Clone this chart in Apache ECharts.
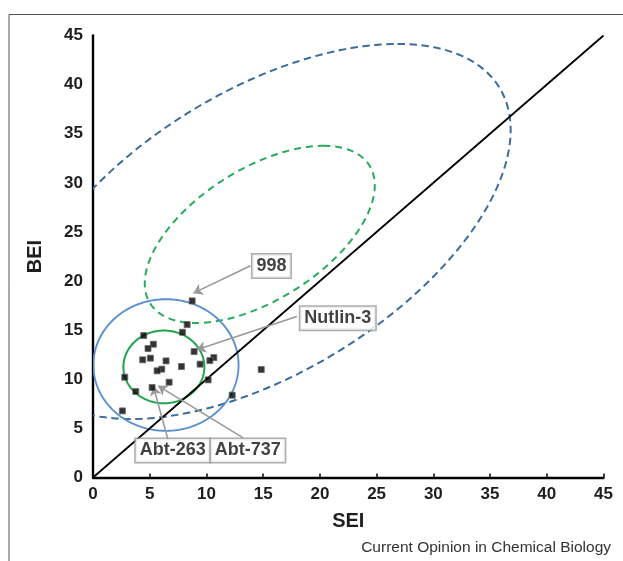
<!DOCTYPE html>
<html><head><meta charset="utf-8">
<script src="https://cdn.jsdelivr.net/npm/echarts@6/dist/echarts.min.js"></script>
<style>html,body{margin:0;padding:0;background:#fff}#c{width:623px;height:561px}</style>
</head><body><div id="c"></div>
<script>
// Compound data (SEI, BEI)
const sei = [8.74, 8.30, 7.88, 4.47, 5.32, 4.85, 8.91, 4.38, 5.06, 6.44, 10.65, 10.30, 9.44, 7.80, 6.06, 5.65, 14.83, 2.80, 10.15, 6.71, 5.21, 3.77, 12.27, 2.59];
const bei = [17.98, 15.57, 14.79, 14.45, 13.57, 13.13, 12.82, 11.98, 12.15, 11.87, 12.21, 11.90, 11.54, 11.30, 11.03, 10.86, 10.99, 10.21, 9.94, 9.70, 9.16, 8.75, 8.38, 6.78];
const ticks = [0, 5, 10, 15, 20, 25, 30, 35, 40, 45];
// Annotations (data units)
const annotNames = ['998', 'Nutlin-3', 'Abt-263', 'Abt-737'];
const annotBoxSei = [15.73, 21.58, 7.03, 13.65];
const annotBoxBei = [21.53, 16.22, 2.76, 2.76];
const arrowFromSei = [13.88, 17.97, 6.62, 13.24];
const arrowFromBei = [21.55, 16.38, 3.83, 4.03];
const arrowToSei = [8.85, 9.15, 5.32, 5.74];
const arrowToBei = [18.77, 13.00, 9.26, 9.33];
// Ellipses: centre and two conjugate semi-diameters (data units)
const ellipseCx = [15.10, 14.70, 6.43, 6.25];
const ellipseCy = [25.05, 24.75, 11.45, 11.26];
const ellipseUx = [11.74, 5.60, 0, 0];
const ellipseUy = [19.09, 9.02, 6.70, 3.70];
const ellipseVx = [18.27, 8.45, 6.40, 3.57];
const ellipseVy = [0, 0, 0, 0];
const diagonal = [[0, 0], [45, 45]];

const ellipseStyles = [
  {color: '#3b6c9e', width: 2, dash: [7.5, 4.5]},
  {color: '#27ad59', width: 2, dash: [7, 5]},
  {color: '#5b90cf', width: 1.9, dash: null},
  {color: '#1fa34c', width: 2, dash: null}
];
const FONT = 'Liberation Sans, Arial, sans-serif';

const chart = echarts.init(document.getElementById('c'), null, {renderer: 'canvas'});
const axisCommon = {
  type: 'value', min: ticks[0], max: ticks[ticks.length - 1], interval: ticks[1] - ticks[0],
  splitLine: {show: false},
  axisLine: {show: true, lineStyle: {color: '#000', width: 2.4}},
  axisLabel: {fontSize: 17, fontWeight: 'bold', color: '#1e1e1e', fontFamily: FONT},
  nameLocation: 'middle',
  nameTextStyle: {fontSize: 20, fontWeight: 'bold', color: '#1e1e1e', fontFamily: FONT}
};
chart.setOption({
  animation: false,
  backgroundColor: '#fff',
  grid: {left: 93, right: 19.5, top: 35.5, bottom: 83.5, containLabel: false, outerBoundsMode: 'none'},
  xAxis: Object.assign({}, axisCommon, {
    name: 'SEI', nameGap: 34,
    axisTick: {show: true, inside: true, length: 4, lineStyle: {color: '#000', width: 1.5}},
    axisLabel: Object.assign({}, axisCommon.axisLabel, {margin: 8})
  }),
  yAxis: Object.assign({}, axisCommon, {
    name: 'BEI', nameGap: 48,
    axisTick: {show: false},
    axisLabel: Object.assign({}, axisCommon.axisLabel, {margin: 10})
  }),
  graphic: [
    {type: 'polyline', shape: {points: [[9, 561], [9, 14.5], [623, 14.5]]}, style: {stroke: '#555', lineWidth: 1, fill: null}, silent: true},
    {type: 'text', right: 12, top: 540, style: {text: 'Current Opinion in Chemical Biology', fontSize: 15.5, fontFamily: FONT, fill: '#333'}, silent: true}
  ],
  series: [
    {
      type: 'custom', coordinateSystem: 'cartesian2d', clip: true, silent: true, z: 2,
      data: ellipseCx.map((cx, i) => [cx, ellipseCy[i], ellipseUx[i], ellipseUy[i], ellipseVx[i], ellipseVy[i], i]),
      encode: {x: 0, y: 1},
      renderItem: function (params, api) {
        const cx = api.value(0), cy = api.value(1), ux = api.value(2), uy = api.value(3), vx = api.value(4), vy = api.value(5), idx = api.value(6);
        const pts = [];
        for (let k = 0; k <= 240; k++) {
          const t = k / 240 * 2 * Math.PI;
          pts.push(api.coord([cx + ux * Math.cos(t) + vx * Math.sin(t), cy + uy * Math.cos(t) + vy * Math.sin(t)]));
        }
        const st = ellipseStyles[idx];
        const cs = params.coordSys;
        return {
          type: 'group',
          clipPath: {type: 'rect', shape: {x: cs.x, y: cs.y, width: cs.width, height: cs.height}},
          children: [{type: 'polyline', shape: {points: pts}, style: {stroke: st.color, lineWidth: st.width, lineDash: st.dash, fill: null}}]
        };
      }
    },
    {
      type: 'line', data: diagonal, symbol: 'none', silent: true, z: 3,
      lineStyle: {color: '#000', width: 1.8}
    },
    {
      type: 'lines', coordinateSystem: 'cartesian2d', silent: true, z: 4,
      symbol: ['none', 'arrow'], symbolSize: 9,
      lineStyle: {color: '#999', width: 1.6, opacity: 1},
      data: annotNames.map((n, i) => ({coords: [[arrowFromSei[i], arrowFromBei[i]], [arrowToSei[i], arrowToBei[i]]]}))
    },
    {
      type: 'scatter', symbol: 'rect', symbolSize: 6, silent: true, z: 5,
      itemStyle: {color: '#000', borderColor: '#666', borderWidth: 1},
      data: sei.map((x, i) => [x, bei[i]])
    },
    {
      type: 'scatter', symbolSize: 0, silent: true, z: 6,
      data: annotNames.map((n, i) => ({name: n, value: [annotBoxSei[i], annotBoxBei[i]]})),
      label: {
        show: true, position: 'inside', formatter: '{b}',
        fontSize: 18, fontWeight: 'bold', color: '#111', fontFamily: FONT,
        backgroundColor: '#fff', borderColor: '#999', borderWidth: 1.5, padding: [3, 4, 2, 4]
      }
    }
  ]
});
</script>
</body></html>
